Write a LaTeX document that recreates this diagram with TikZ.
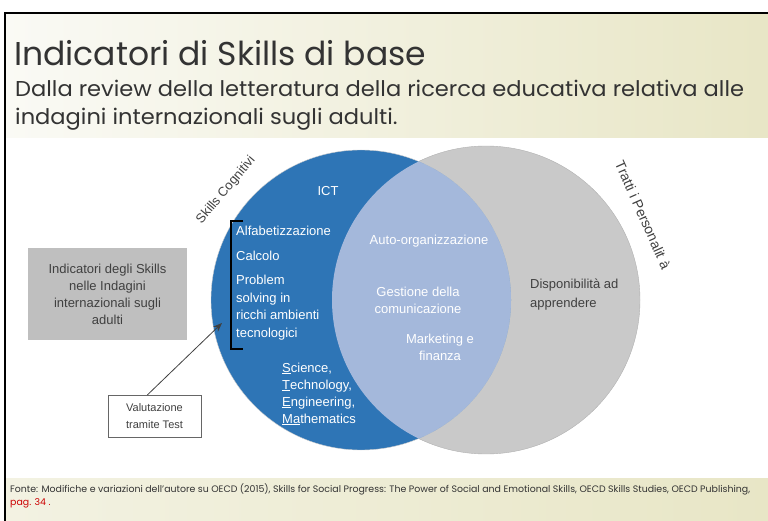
\documentclass[tikz,border=0pt]{standalone}
\usepackage{fontspec}
\setmainfont{Liberation Sans}
\newfontfamily\gothic{Poppins}
\newfontfamily\gothicwide[FakeStretch=1.05]{Poppins}
\usetikzlibrary{arrows.meta, positioning}
\definecolor{skillblue}{HTML}{2E75B6}
\definecolor{trattigray}{HTML}{C9C9C9}
\definecolor{overlapblue}{HTML}{A4B8DB}
\definecolor{textgray}{HTML}{404040}
\definecolor{creamL}{HTML}{FAFAF5}
\definecolor{creamR}{HTML}{E8E6C6}
\tikzset{
    intext/.style={text=white, font=\fontsize{13}{17.5}\selectfont, inner sep=0pt},
    sidelabel/.style={text=textgray, inner sep=0pt},
    greybox/.style={rectangle, fill=black!25, text=textgray, align=center, font=\fontsize{13}{17}\selectfont, minimum width=159pt, minimum height=92pt},
    testbox/.style={rectangle, draw=black!60, fill=white, text=textgray, align=center, font=\fontsize{11}{17}\selectfont, minimum width=93pt, minimum height=42pt},
    arrow/.style={draw=textgray, thick, -{Stealth[length=9pt, width=7pt]}}
}
\begin{document}
\begin{tikzpicture}[x=1pt, y=-1pt]
    \useasboundingbox (0,0) rectangle (768,521);
    % slide background
    \shade[left color=creamL, right color=creamR] (6,14) rectangle (768,138);
    \shade[left color=creamL!60!creamR, right color=creamR] (6,478) rectangle (768,521);
    \draw[line width=2pt] (5,525) -- (5,13) -- (772,13);

    % title
    \node (title) [anchor=base west, inner sep=0pt, text=black!80, font=\gothic\fontsize{33}{33}\selectfont] at (14,66) {Indicatori di Skills di base};
    \node (subtitle) [anchor=base west, inner sep=0pt, text=black!80, align=left, font=\gothicwide\fontsize{21.5}{28}\selectfont] at (15,125) {Dalla review della letteratura della ricerca educativa relativa alle\\indagini internazionali sugli adulti.};

    % Venn circles
    \fill[trattigray, draw=black!30] (486,300) circle[radius=154pt];
    \fill[skillblue, draw=black!20] (361,300) circle[radius=150pt];
    \begin{scope}
        \clip (486,300) circle[radius=154pt];
        \fill[overlapblue] (361,300) circle[radius=150pt];
    \end{scope}

    % circle labels
    \node (cogn) [sidelabel, rotate=50, font=\fontsize{13}{14}\selectfont] at (226,190) {Skills Cognitivi};
    \node (pers) [sidelabel, rotate=-66, font=\fontsize{14}{15}\selectfont] at (643,215) {Tratti i Personalit à};

    % cognitive skills
    \node (ict) [intext, anchor=base] at (328,196) {ICT};
    \node (alfa) [intext, anchor=base west] at (236,236) {Alfabetizzazione};
    \node (calc) [intext, anchor=base west] at (236,261) {Calcolo};
    \node (prob) [intext, anchor=base west, align=left] at (236,337) {Problem\\solving in\\ricchi ambienti\\tecnologici};
    \node (stem) [intext, anchor=base west, align=left, font=\fontsize{13}{17}\selectfont] at (282,423) {\underline{S}cience,\\\underline{T}echnology,\\\underline{E}ngineering,\\\underline{Ma}thematics};

    % shared skills
    \node (auto) [intext, anchor=base] at (429,245) {Auto-organizzazione};
    \node (gest) [intext, anchor=base, align=center, font=\fontsize{13}{17}\selectfont] at (418,313) {Gestione della\\comunicazione};
    \node (mark) [intext, anchor=base, align=center, font=\fontsize{13}{17}\selectfont] at (440,360) {Marketing e\\finanza};

    % personality
    \node (disp) [intext, text=textgray, anchor=base west, align=left, font=\fontsize{13}{19}\selectfont] at (530,307) {Disponibilità ad\\apprendere};

    % bracket for tested skills
    \coordinate (brtop) at (243,221);
    \coordinate (brbot) at (243,349);
    \draw[line width=1.2pt] (brtop) -- ++(-12,0) -- ++(0,128) -- (brbot);

    % side boxes
    \node (indic) [greybox] at (107.5,294) {Indicatori degli Skills\\nelle Indagini\\internazionali sugli\\adulti};
    \node (valut) [testbox] at (154.5,416) {Valutazione\\tramite Test};
    \coordinate (tip) at (222,323);
    \draw[arrow] ([xshift=-7pt]valut.north) -- (tip);

    % source
    \node (fonte) [anchor=base west, inner sep=0pt, align=left, text=black!80, font=\gothic\fontsize{9.4}{13}\selectfont] at (10,505) {Fonte: Modifiche e variazioni dell’autore su OECD (2015), Skills for Social Progress: The Power of Social and Emotional Skills, OECD Skills Studies, OECD Publishing,\\\textcolor{red!80!black}{pag. 34 .}};
\end{tikzpicture}
\end{document}
